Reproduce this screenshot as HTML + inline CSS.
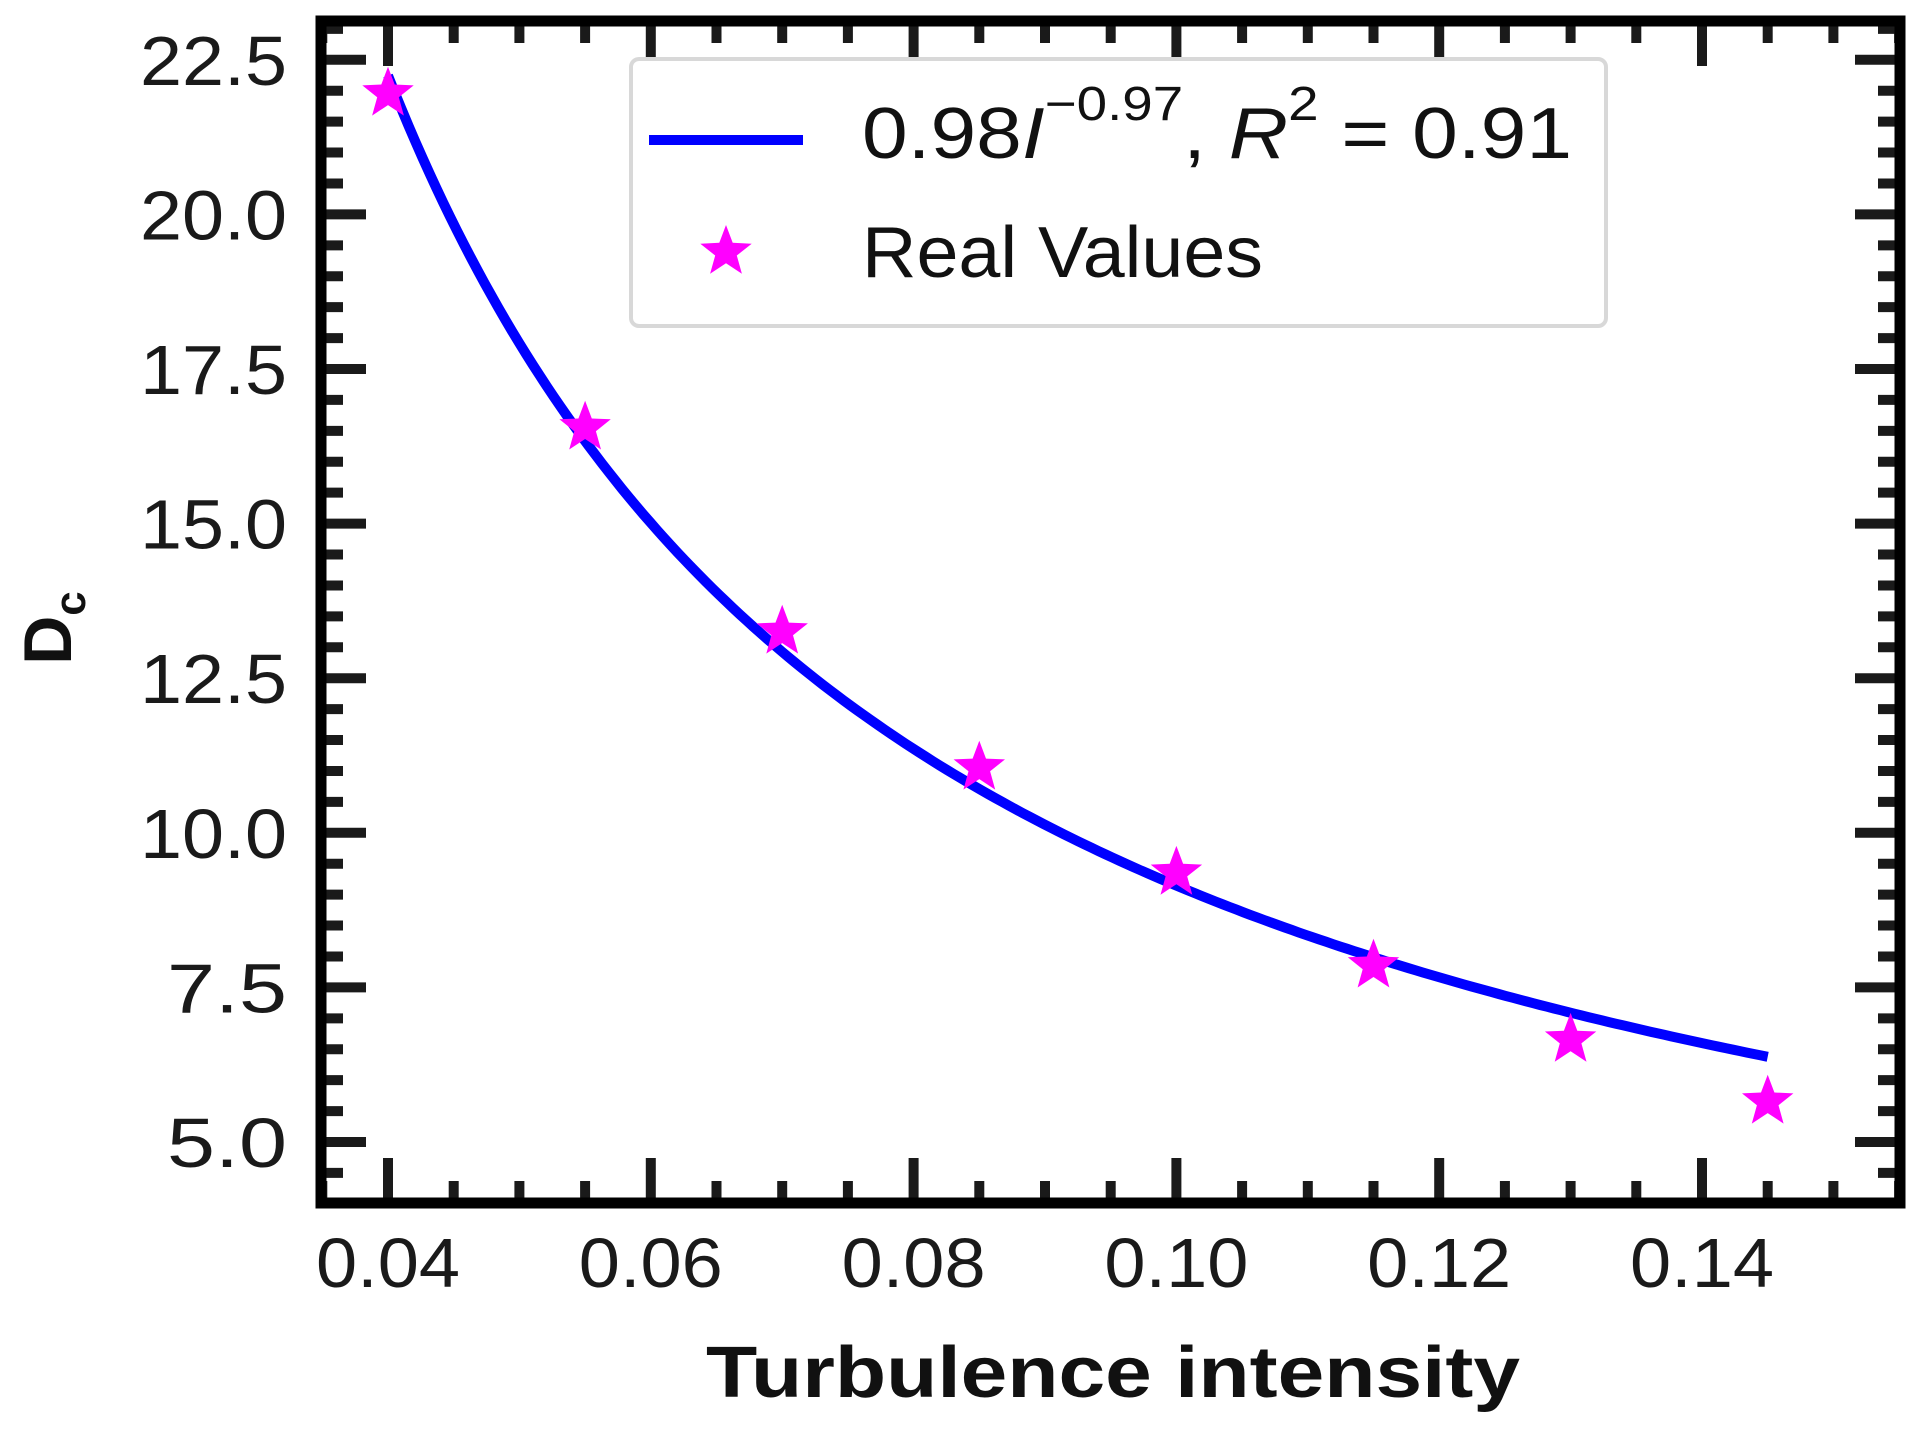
<!DOCTYPE html>
<html><head><meta charset="utf-8"><style>
html,body{margin:0;padding:0;background:#fff;}
svg{display:block;}
text{font-family:"Liberation Sans","DejaVu Sans",sans-serif;}
</style></head><body>
<svg id="chart" width="1925" height="1433" viewBox="0 0 1925 1433" xmlns="http://www.w3.org/2000/svg">
<rect width="1925" height="1433" fill="#fff"/>
<g id="ticks"></g>
<g id="curve-layer"></g>
<g id="points-layer"></g>
<rect x="321" y="21" width="1579" height="1182" fill="none" stroke="#000" stroke-width="11"/>
<g id="labels"></g>
<text x="1113" y="1397" text-anchor="middle" font-weight="bold" font-size="72" textLength="814" lengthAdjust="spacingAndGlyphs" fill="#111">Turbulence intensity</text>
<g transform="translate(71,628) rotate(-90)">
<text x="0" y="0" text-anchor="middle" font-weight="bold" font-size="68" fill="#111">D<tspan font-size="44" dy="14">c</tspan></text>
</g>
<g>
<rect x="631" y="59" width="975" height="267" rx="8" fill="#fff" stroke="#d8d8d8" stroke-width="4"/>
<line x1="649" y1="140" x2="803" y2="140" stroke="#0000ff" stroke-width="10"/>
<text x="862" y="158" font-size="72" fill="#111" textLength="710" lengthAdjust="spacingAndGlyphs">0.98<tspan font-style="italic">I</tspan><tspan font-size="48" dy="-38">−0.97</tspan><tspan dy="38">, </tspan><tspan font-style="italic">R</tspan><tspan font-size="48" dy="-38">2</tspan><tspan dy="38"> = 0.91</tspan></text>
<polygon id="legend-star" fill="#ff00ff"/>
<text x="862" y="277" font-size="72" fill="#111" textLength="401" lengthAdjust="spacingAndGlyphs">Real Values</text>
</g>
</svg>
<script>
const xValues = [0.04, 0.055, 0.07, 0.085, 0.10, 0.115, 0.13, 0.145];
const yValues = [22.0, 16.6, 13.3, 11.1, 9.4, 7.9, 6.7, 5.7];
const fitCoef = [0.98, -0.97];
const xTickLabels = ["0.04","0.06","0.08","0.10","0.12","0.14"];
const yTickLabels = ["5.0","7.5","10.0","12.5","15.0","17.5","20.0","22.5"];

const NS = "http://www.w3.org/2000/svg";
function sx(v){ return 388 + (v - 0.04) / 0.01 * 131.4; }
function sy(v){ return 1142 - (v - 5) / 2.5 * 154.6; }
function mk(tag, attrs, parent){ const e = document.createElementNS(NS, tag); for (const k in attrs) e.setAttribute(k, attrs[k]); parent.appendChild(e); return e; }
function starPts(cx, cy, R){
  const r = R * 0.42; let p = [];
  for (let i = 0; i < 10; i++){ const a = -Math.PI/2 + i*Math.PI/5; const rr = i%2 ? r : R; p.push((cx+rr*Math.cos(a)).toFixed(1)+","+(cy+rr*Math.sin(a)).toFixed(1)); }
  return p.join(" ");
}
const ticks = document.getElementById("ticks");
const labels = document.getElementById("labels");
// x ticks: minor every 0.005 from 0.035 to 0.155
for (let i = 0; i <= 24; i++){
  const v = 0.035 + i*0.005; const x = sx(v);
  const major = Math.abs(((v - 0.04)/0.02) - Math.round((v-0.04)/0.02)) < 1e-6;
  const L = major ? 40 : 17;
  const b = mk("line", {x1:x, y1:1198, x2:x, y2:1198-L, stroke:"#1a1a1a", "stroke-width":10}, ticks);
  
  
  const t = mk("line", {x1:x, y1:26, x2:x, y2:26+L, stroke:"#1a1a1a", "stroke-width":10}, ticks);
  
  
}
// y ticks: minor every 0.5 from 4.5 to 23
for (let i = 0; i <= 37; i++){
  const v = 4.5 + i*0.5; const y = sy(v);
  if (y < 26 || y > 1198) continue;
  const major = Math.abs(v/2.5 - Math.round(v/2.5)) < 1e-6;
  const L = major ? 40 : 17;
  const l = mk("line", {x1:326, y1:y, x2:326+L, y2:y, stroke:"#1a1a1a", "stroke-width":10}, ticks);
  
  
  const r = mk("line", {x1:1895, y1:y, x2:1895-L, y2:y, stroke:"#1a1a1a", "stroke-width":10}, ticks);
  
  
}
xTickLabels.forEach((s) => {
  const t = mk("text", {x:sx(parseFloat(s)), y:1287, "text-anchor":"middle", "font-size":70, fill:"#1a1a1a", textLength:144, lengthAdjust:"spacingAndGlyphs"}, labels);
  t.textContent = s;
  
  
});
yTickLabels.forEach((s) => {
  const t = mk("text", {x:287, y:sy(parseFloat(s))+25, "text-anchor":"end", "font-size":70, fill:"#1a1a1a", textLength:(s.length===4?147:120), lengthAdjust:"spacingAndGlyphs"}, labels);
  t.textContent = s;
  
  
});
// fitted curve
let d = "";
const x0 = xValues[0], x1 = xValues[xValues.length-1];
for (let i = 0; i <= 200; i++){
  const v = x0 + (x1 - x0)*i/200;
  const y = fitCoef[0]*Math.pow(v, fitCoef[1]);
  d += (i ? "L" : "M") + sx(v).toFixed(1) + "," + sy(y).toFixed(1);
}
const curve = mk("path", {d:d, fill:"none", stroke:"#0000ff", "stroke-width":10}, document.getElementById("curve-layer"));


// points
const pl = document.getElementById("points-layer");
xValues.forEach((v, i) => {
  const p = mk("polygon", {points:starPts(sx(v), sy(yValues[i])+3, 27), fill:"#ff00ff"}, pl);
  
  
});
document.getElementById("legend-star").setAttribute("points", starPts(726, 252, 27));
</script>
</body></html>
